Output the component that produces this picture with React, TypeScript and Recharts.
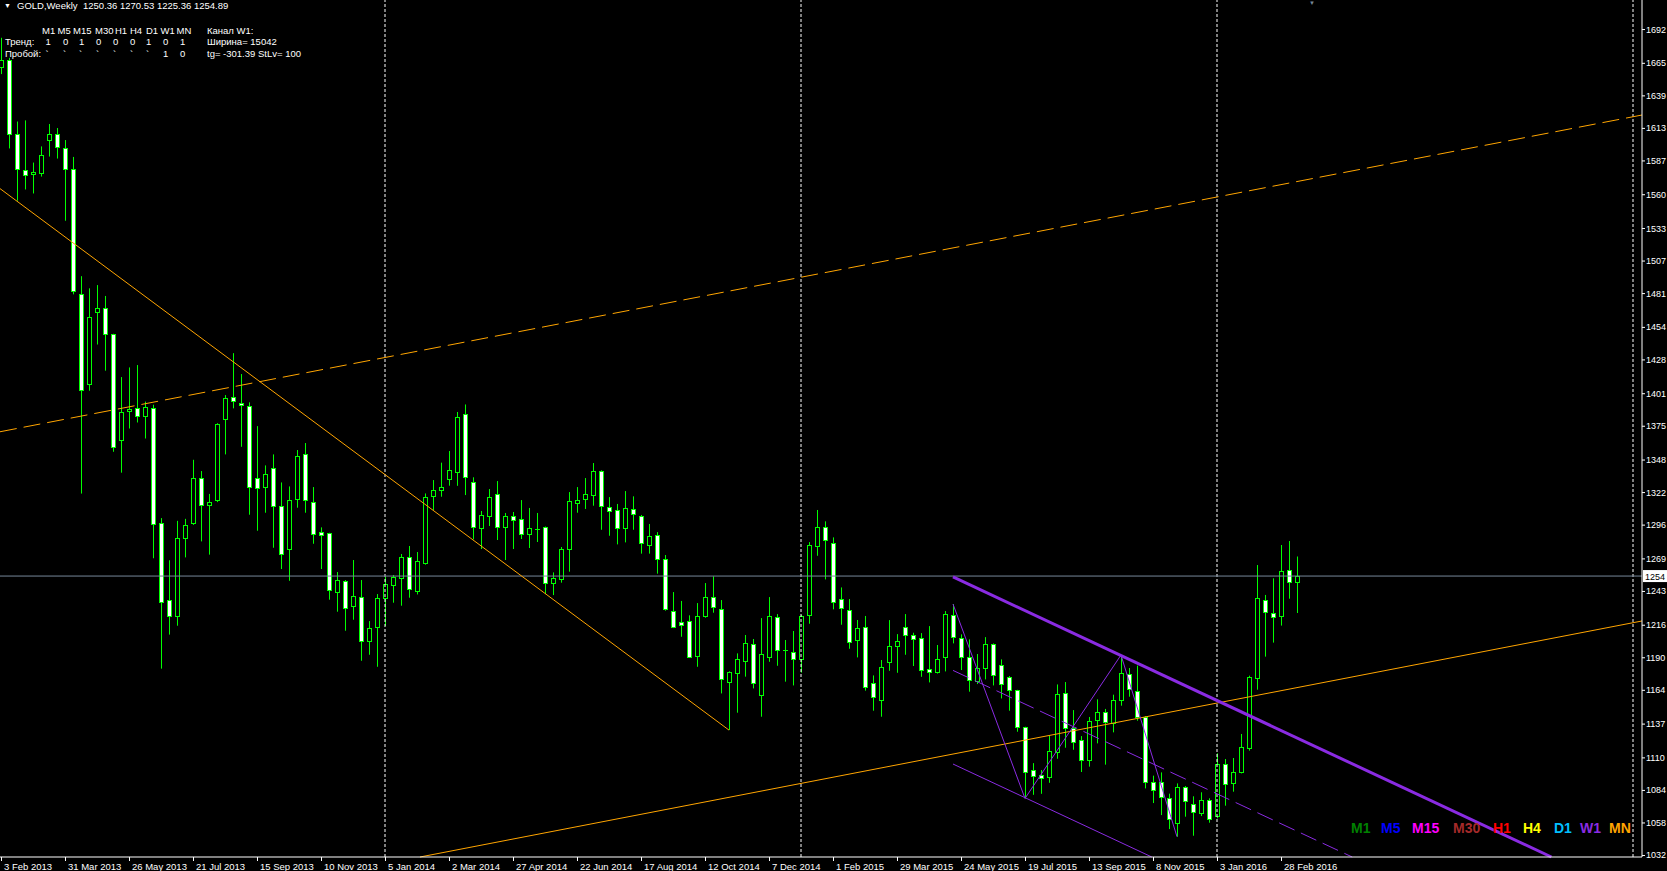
import { ComposedChart, Bar, Line, XAxis, YAxis, ReferenceLine } from "recharts";

// GOLD weekly candles, 3 Feb 2013 .. 13 Mar 2016
const opens = [
  1662, 1667.2, 1608.4, 1579.5, 1576.5, 1577.3, 1603, 1607.8, 1596.6, 1580.5,
  1480, 1408.1, 1466.2, 1468.8, 1448, 1363.8, 1387, 1388.9, 1382.4, 1389.5,
  1297, 1235.4, 1222.6, 1285.2, 1297.1, 1333, 1311.5, 1315.7, 1380.1, 1398.2,
  1392.9, 1390.5, 1333.5, 1326.3, 1341.5, 1310.5, 1276.7, 1316.1, 1352.1, 1313.7,
  1289.8, 1289, 1241.8, 1250.6, 1230.6, 1237.8, 1202.7, 1213.9, 1237, 1247.5,
  1253, 1269.8, 1242.6, 1265, 1318.5, 1324, 1332.2, 1338.3, 1384, 1329.8,
  1293, 1303.1, 1320.2, 1294.3, 1302.6, 1300.2, 1288.7, 1292.6, 1293.8, 1249.6,
  1252.2, 1276.8, 1313, 1316.2, 1319.9, 1338.6, 1309.8, 1307.4, 1293, 1308.2,
  1302.6, 1279.4, 1287.4, 1268.2, 1226.7, 1217.9, 1218.7, 1191.2, 1223.2, 1238.4,
  1228.3, 1170.5, 1177.1, 1186.7, 1200.3, 1159.5, 1190.4, 1221.9, 1195.6, 1193.9,
  1188.3, 1223.5, 1278.6, 1293.8, 1281, 1236.3, 1227.5, 1203.5, 1213.9, 1169.1,
  1155.5, 1185.9, 1198.7, 1213.9, 1207.5, 1205.1, 1180.3, 1177.9, 1189.9, 1223.5,
  1205.1, 1189.9, 1170.7, 1181.1, 1200.3, 1184, 1174.4, 1163.5, 1134, 1099.6,
  1095.6, 1094.5, 1114.5, 1161.1, 1133.2, 1123.6, 1107.6, 1139.6, 1146, 1137.7,
  1155.6, 1176.4, 1162.8, 1142.5, 1090, 1090, 1077.3, 1057.3, 1086, 1073,
  1065.8, 1075.7, 1062.9, 1104.4, 1089.2, 1098, 1117.7, 1173.2, 1235.5, 1225.1,
  1222.7, 1259.5, 1250.36,
];
const highs = [
  1685, 1669, 1618.1, 1619, 1585.3, 1598.2, 1616.1, 1612.9, 1603.3, 1589.8,
  1494.5, 1484.8, 1487.4, 1478.7, 1448.5, 1413.9, 1421.6, 1423.5, 1394.3, 1391.8,
  1301.2, 1267.5, 1299, 1300.6, 1347.8, 1338.8, 1320.5, 1377, 1399.5, 1433,
  1416.3, 1393.7, 1374.7, 1343.3, 1352.1, 1329.7, 1326.5, 1355.6, 1361.2, 1326,
  1293.8, 1289.5, 1258.1, 1251.7, 1267.7, 1251.7, 1218.9, 1240.5, 1254.3, 1255.7,
  1272.5, 1278.9, 1274.1, 1320.9, 1331.6, 1345.5, 1354.8, 1386, 1392, 1333.8,
  1306.9, 1324.4, 1330.8, 1305.3, 1306.1, 1315.6, 1309.3, 1305.3, 1294.5, 1257.8,
  1278.1, 1322, 1326, 1333.2, 1345.2, 1339.4, 1318, 1312.5, 1322.8, 1318.6,
  1303.7, 1296.5, 1290, 1271.7, 1242.1, 1235, 1223.5, 1233.3, 1249.3, 1254.7,
  1235.7, 1178.8, 1193.1, 1207.8, 1204.6, 1221.3, 1238.1, 1224.5, 1203.8, 1211,
  1223.8, 1282, 1307.7, 1298.6, 1285.8, 1245.8, 1236.5, 1219.8, 1223, 1175.5,
  1187.8, 1219.7, 1208.5, 1224.5, 1209.6, 1209.3, 1214.9, 1199.8, 1226.9, 1232.5,
  1208.3, 1204.3, 1192.6, 1206.1, 1201.1, 1188.3, 1175, 1164, 1134.5, 1105.4,
  1099.9, 1127.8, 1168.3, 1170.2, 1147.8, 1127, 1142.3, 1156.4, 1148.7, 1160.1,
  1191.8, 1181.4, 1183.3, 1143, 1095.4, 1098, 1081, 1089.2, 1087.1, 1078.9,
  1082.1, 1077.3, 1113.2, 1108.7, 1109.5, 1128.7, 1175.3, 1263.7, 1239.8, 1253.1,
  1279.7, 1282.9, 1270.53,
];
const lows = [
  1656, 1596.6, 1554.8, 1563.8, 1560.6, 1574.1, 1590.1, 1588.5, 1538.8, 1480,
  1320.8, 1403, 1439.9, 1419, 1354.2, 1337.5, 1372.8, 1377.6, 1364.8, 1269.1,
  1180.9, 1208.1, 1215.2, 1269.8, 1295.8, 1282.6, 1272, 1314, 1352.1, 1388.9,
  1358.2, 1303.9, 1291.1, 1305.5, 1277.5, 1260.5, 1251.1, 1309.5, 1305.5, 1280.7,
  1260.5, 1236, 1226.4, 1211.2, 1220, 1187.2, 1192, 1182.4, 1214.9, 1233.6,
  1231.2, 1237.6, 1240.2, 1264, 1307.6, 1318.3, 1327.1, 1327, 1319.6, 1284.2,
  1276.5, 1294.9, 1283.7, 1267.7, 1276.5, 1284.5, 1277.3, 1282.1, 1240.5, 1239.7,
  1249.6, 1258.4, 1305.5, 1308.5, 1311.1, 1291.9, 1287.1, 1280.2, 1281.8, 1291.9,
  1272.8, 1272.8, 1256.8, 1227.2, 1213.3, 1206.4, 1189.6, 1182.4, 1221.6, 1225.6,
  1161.1, 1131.8, 1145.7, 1174.5, 1165.1, 1142.5, 1186.4, 1183.2, 1170.5, 1167.5,
  1177.7, 1216.8, 1271.1, 1252.2, 1228.3, 1216, 1196.8, 1189.9, 1163.3, 1147.3,
  1142.5, 1179.2, 1177.6, 1192, 1183, 1174.4, 1169.9, 1177, 1178.7, 1201.1,
  1179.8, 1162.5, 1168.6, 1172.3, 1167.5, 1157.1, 1147.3, 1130.5, 1077.2, 1080.1,
  1080.9, 1089.7, 1108.9, 1117.7, 1116.1, 1098.3, 1102.6, 1121.2, 1104.2, 1130,
  1151.3, 1158.5, 1139.3, 1085.2, 1073.5, 1063.9, 1052.7, 1046.6, 1062.6, 1047.4,
  1063.1, 1057.8, 1061.3, 1071.4, 1082.6, 1097.2, 1115.4, 1164.1, 1190.5, 1201.7,
  1215.3, 1236.8, 1225.36,
];
const closes = [
  1667, 1608.4, 1580.5, 1575, 1578, 1591.1, 1607.8, 1597.5, 1579.9, 1482.6,
  1403.3, 1461.7, 1469.4, 1448.2, 1358.4, 1385.7, 1388.5, 1382.4, 1389.8, 1296.4,
  1233.8, 1222.6, 1285.2, 1295.5, 1333, 1311.5, 1314, 1376, 1396.9, 1394.5,
  1391.3, 1325.7, 1324.9, 1336.1, 1310.5, 1272.2, 1315.3, 1350.5, 1315.3, 1288.2,
  1287.4, 1243.4, 1251.4, 1229, 1238.6, 1202.7, 1213.1, 1237, 1248.2, 1253.8,
  1269.8, 1244.2, 1266.6, 1317.7, 1323.3, 1326, 1339.4, 1382, 1334.3, 1294.3,
  1303.4, 1317.8, 1294.3, 1302.6, 1299.4, 1288.2, 1293, 1291.8, 1249, 1253,
  1276.2, 1314.6, 1315.4, 1320.2, 1338.6, 1310.6, 1306.6, 1293, 1309, 1304.2,
  1281, 1286.6, 1268.2, 1228.8, 1214.4, 1215.5, 1190.5, 1222.7, 1237.9, 1230.4,
  1172.3, 1178, 1188.3, 1201.1, 1169.1, 1192.3, 1222.7, 1195.5, 1195, 1188.3,
  1222.7, 1279.4, 1293.8, 1283.4, 1233.8, 1229.1, 1202.2, 1213.1, 1166.5, 1157.9,
  1181.9, 1198.7, 1202.7, 1207.5, 1204.3, 1179.5, 1177.9, 1188.3, 1224.3, 1205.9,
  1189.9, 1171.5, 1181.1, 1200.3, 1175.5, 1168.3, 1163.5, 1134, 1098.5, 1095.3,
  1093.7, 1114.8, 1160.3, 1133.2, 1122, 1107.8, 1138.8, 1146, 1138, 1155.6,
  1177.2, 1164.4, 1142, 1090, 1083.7, 1078, 1060.5, 1086, 1074.9, 1066.1,
  1076.2, 1060.5, 1104.4, 1088.4, 1098, 1118, 1174, 1237.1, 1225.9, 1221.9,
  1258.7, 1249.9, 1254.89,
];

// one date label every 8 bars, starting at bar 0
const dateLabels = [
  "3 Feb 2013", "31 Mar 2013", "26 May 2013", "21 Jul 2013", "15 Sep 2013", "10 Nov 2013",
  "5 Jan 2014", "2 Mar 2014", "27 Apr 2014", "22 Jun 2014", "17 Aug 2014", "12 Oct 2014",
  "7 Dec 2014", "1 Feb 2015", "29 Mar 2015", "24 May 2015", "19 Jul 2015", "13 Sep 2015",
  "8 Nov 2015", "3 Jan 2016", "28 Feb 2016",
];
const dateTicks = dateLabels.map((_, k) => k * 8);
const priceTicks = [
  1032, 1058, 1084, 1110, 1137, 1164, 1190, 1216, 1243, 1269, 1296, 1322, 1348,
  1375, 1401, 1428, 1454, 1481, 1507, 1533, 1560, 1587, 1613, 1639, 1665, 1692,
];
const lastPrice = 1254.89;
const yearStarts = [48, 100, 152, 204];

// trend lines: bar index / price
const upperDashed = [{ x: -0.125, y: 1370.2 }, { x: 205.125, y: 1623.3 }];
const lowerSolid = [{ x: 52.375, y: 1030.4 }, { x: 205.125, y: 1219 }];
const fallLine = [{ x: -0.125, y: 1564.5 }, { x: 91, y: 1131.8 }];
const w1Top = [{ x: 119, y: 1254.2 }, { x: 193.8, y: 1030.4 }];
const w1Mid = [{ x: 119, y: 1179.5 }, { x: 168.9, y: 1030.4 }];
const w1Bottom = [{ x: 119, y: 1104.7 }, { x: 143.85, y: 1030.4 }];
const zigIdx = [119, 128, 140, 147];
const zigIsHigh = [true, false, true, false];

const tfNames = ["M1", "M5", "M15", "M30", "H1", "H4", "D1", "W1", "MN"];
const trendVals = ["1", "0", "1", "0", "0", "0", "1", "0", "1"];
const breakVals = ["`", "`", "`", "`", "`", "`", "`", "1", "0"];

const FONT = '"Liberation Sans", Arial, sans-serif';
const LIME = "#00ff00";
const VIOLET = "#8a2be2";
const tfColors = ["#008000", "#0000ff", "#ff00ff", "#a52a2a", "#ff0000", "#ffff00", "#00bfff", "#8a2be2", "#ffa500"];
const tfHeadLeft = [42, 57.5, 73, 95, 115, 130, 146, 160.5, 176.5];
const tfValCenter = [48.5, 66, 82, 99, 116, 133, 149, 166, 183];
const legendLeft = [1351, 1381, 1412, 1453, 1493, 1523, 1554, 1580, 1609];

const bars = opens.map((o, i) => {
  const z = zigIdx.indexOf(i);
  return {
    i,
    open: o,
    high: highs[i],
    low: lows[i],
    close: closes[i],
    range: [lows[i], highs[i]],
    zz: z >= 0 ? (zigIsHigh[z] ? highs[i] : lows[i]) : null,
  };
});

const Candle = (props: any) => {
  const { x, y, width, height, payload } = props;
  const { open, close, high, low } = payload;
  const cx = Math.round(x + width / 2);
  const top = Math.min(y, y + height);
  const h = Math.abs(height);
  const py = (v: number) => top + ((high - v) / (high - low || 1)) * h;
  const yA = Math.round(Math.min(py(open), py(close)));
  const yB = Math.round(Math.max(py(open), py(close)));
  const bull = close >= open;
  return (
    <g>
      <line x1={cx + 0.5} x2={cx + 0.5} y1={top} y2={top + h} stroke={LIME} strokeWidth={1} />
      {yB - yA < 2 ? (
        <line x1={cx - 2} x2={cx + 3} y1={yA + 0.5} y2={yA + 0.5} stroke={LIME} strokeWidth={1} />
      ) : (
        <rect x={cx - 1.5} y={yA + 0.5} width={4} height={yB - yA} fill={bull ? "#000" : "#fff"} stroke={LIME} strokeWidth={1} />
      )}
    </g>
  );
};

const DateTick = (props: any) => {
  const { x, y, payload } = props;
  const k = dateTicks.indexOf(payload.value);
  return (
    <g>
      <line x1={x + 0.5} x2={x + 0.5} y1={y} y2={y + 4} stroke="#fff" />
      <text x={x + 3} y={y + 12.5} fill="#fff" fontSize={9.5} fontFamily={FONT}>
        {dateLabels[k]}
      </text>
    </g>
  );
};

const PriceTick = (props: any) => {
  const { x, y, payload } = props;
  const v = payload.value;
  if (v === lastPrice) {
    return (
      <g>
        <rect x={x + 1} y={y - 6} width={24} height={12} fill="#fff" />
        <text x={x + 3} y={y + 3.5} fill="#000" fontSize={9} fontFamily={FONT}>
          {Math.floor(v)}
        </text>
      </g>
    );
  }
  return (
    <g>
      <line x1={x} x2={x + 3} y1={y + 0.5} y2={y + 0.5} stroke="#fff" />
      <text x={x + 4} y={y + 3.5} fill="#fff" fontSize={9} fontFamily={FONT}>
        {v}
      </text>
    </g>
  );
};

const txt = (left: number, top: number, s: string, extra: any = {}) => (
  <span
    key={`${left}-${top}-${s}`}
    style={{
      position: "absolute",
      left,
      top,
      fontSize: 9.5,
      lineHeight: "12px",
      color: "#fff",
      fontFamily: FONT,
      whiteSpace: "pre",
      ...extra,
    }}
  >
    {s}
  </span>
);

export default function App() {
  return (
    <div style={{ position: "fixed", left: 0, top: 0, width: 1667, height: 871, background: "#000", overflow: "hidden" }}>
      <ComposedChart width={1667} height={871} data={bars} margin={{ top: 0, right: 0, bottom: 0, left: 0 }}>
        <XAxis
          dataKey="i"
          type="number"
          domain={[-0.125, 205.125]}
          allowDataOverflow
          ticks={dateTicks}
          interval={0}
          tick={<DateTick />}
          tickLine={false}
          tickSize={0}
          tickMargin={0}
          height={14}
          axisLine={{ stroke: "#fff" }}
        />
        <YAxis
          orientation="right"
          type="number"
          domain={[1030.4, 1715.2]}
          allowDataOverflow
          ticks={[...priceTicks, lastPrice]}
          interval={0}
          tick={<PriceTick />}
          tickLine={false}
          tickSize={0}
          tickMargin={0}
          width={25}
          axisLine={{ stroke: "#fff" }}
        />
        {yearStarts.map((i) => (
          <ReferenceLine key={i} x={i} stroke="#fff" strokeDasharray="3 2" ifOverflow="visible" />
        ))}
        <ReferenceLine y={lastPrice} stroke="#778899" />
        <ReferenceLine segment={upperDashed} stroke="#ffa500" strokeDasharray="17 7" ifOverflow="visible" />
        <ReferenceLine segment={lowerSolid} stroke="#ffa500" ifOverflow="visible" />
        <ReferenceLine segment={fallLine} stroke="#ffa500" ifOverflow="visible" />
        <ReferenceLine segment={w1Top} stroke={VIOLET} strokeWidth={3} ifOverflow="visible" />
        <ReferenceLine segment={w1Mid} stroke={VIOLET} strokeDasharray="17 7" ifOverflow="visible" />
        <ReferenceLine segment={w1Bottom} stroke={VIOLET} ifOverflow="visible" />
        <Line dataKey="zz" type="linear" connectNulls stroke={VIOLET} strokeWidth={1} dot={false} activeDot={false} isAnimationActive={false} />
        <Bar dataKey="range" barSize={8} shape={<Candle />} isAnimationActive={false} />
      </ComposedChart>

      {txt(4, 0, "▼", { fontSize: 7 })}
      {txt(17, 0, "GOLD,Weekly")}
      {txt(83, 0, "1250.36 1270.53 1225.36 1254.89")}
      {tfNames.map((n, k) => txt(tfHeadLeft[k], 24.5, n))}
      {txt(207, 24.5, "Канал W1:")}
      {txt(5, 36, "Тренд:")}
      {trendVals.map((v, k) => txt(tfValCenter[k] - 3, 36, v))}
      {txt(207, 36, "Ширина= 15042")}
      {txt(5, 48, "Пробой:")}
      {breakVals.map((v, k) => txt(tfValCenter[k] - 3, 48, v))}
      {txt(207, 48, "tg= -301.39 StLv= 100")}
      {txt(1309, -3, "▼", { fontSize: 6, color: "#778899" })}
      {tfNames.map((n, k) =>
        txt(legendLeft[k], 820, n, { fontSize: 14, lineHeight: "16px", fontWeight: "bold", color: tfColors[k] })
      )}
    </div>
  );
}
